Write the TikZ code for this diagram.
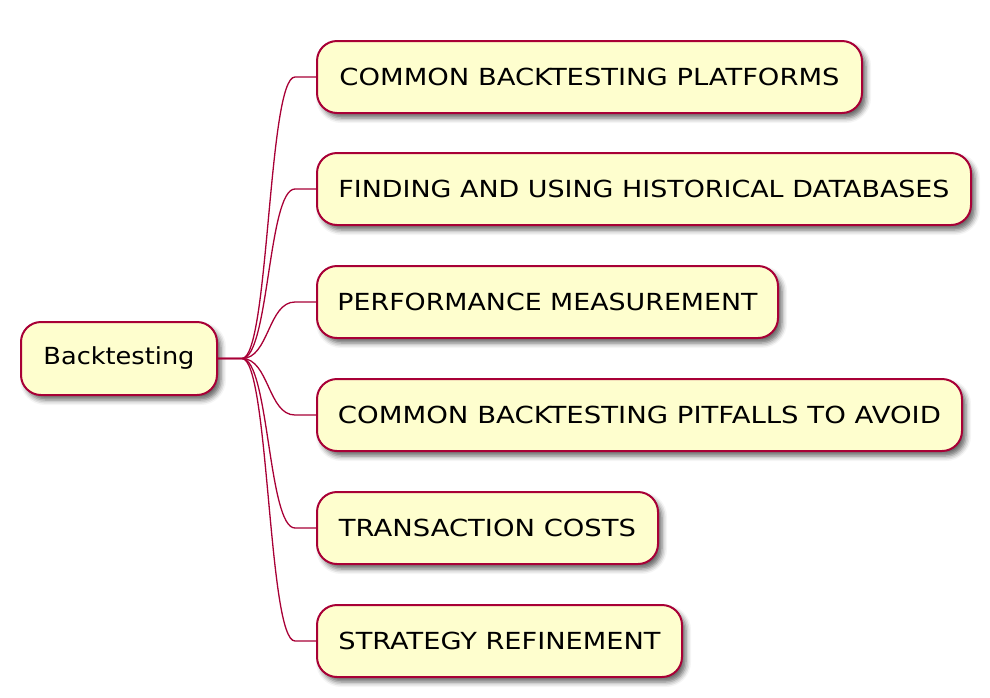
\documentclass[tikz,border=0pt]{standalone}
\usepackage{fontspec}
\usepackage{graphicx}
\setmainfont{DejaVu Sans}
\usetikzlibrary{shadows.blur}
\definecolor{nodefill}{HTML}{FEFECE}
\definecolor{nodeline}{HTML}{A80036}
\newcommand\fitw[2]{\resizebox{#1}{\height}{#2}}
\begin{document}
\begin{tikzpicture}[x=1pt,y=-1pt,
  box/.style={draw=nodeline, fill=nodefill, line width=2pt, rounded corners=20pt,
    minimum height=72pt, inner xsep=0pt, anchor=west,
    font=\fontsize{23.5}{28}\selectfont,
    blur shadow={shadow xshift=4pt, shadow yshift=-5pt, shadow blur radius=5pt, shadow opacity=60}},
  edge/.style={draw=nodeline, line width=1.3pt}]
\useasboundingbox (0,0) rectangle (990,697);
\node[box, minimum width=196pt, minimum height=73pt] (root) at (20,358.5) {\fitw{151pt}{Backtesting}};
\node[box, minimum width=545pt] (c1) at (316,77) {\fitw{500pt}{COMMON BACKTESTING PLATFORMS}};
\node[box, minimum width=654pt] (c2) at (316,189) {\fitw{611pt}{FINDING AND USING HISTORICAL DATABASES}};
\node[box, minimum width=461pt] (c3) at (316,302) {\fitw{420pt}{PERFORMANCE MEASUREMENT}};
\node[box, minimum width=645pt] (c4) at (316,415) {\fitw{603pt}{COMMON BACKTESTING PITFALLS TO AVOID}};
\node[box, minimum width=341pt] (c5) at (316,528) {\fitw{297pt}{TRANSACTION COSTS}};
\node[box, minimum width=365pt] (c6) at (316,641) {\fitw{322pt}{STRATEGY REFINEMENT}};
\foreach \c in {c1,c2,c3,c4,c5,c6}{
  \draw[edge] (root.east) -- ([xshift=24pt]root.east)
    .. controls ([xshift=51pt]root.east) and ([xshift=-48pt]\c.west)
    .. ([xshift=-21pt]\c.west) -- (\c.west);
}
\end{tikzpicture}
\end{document}
